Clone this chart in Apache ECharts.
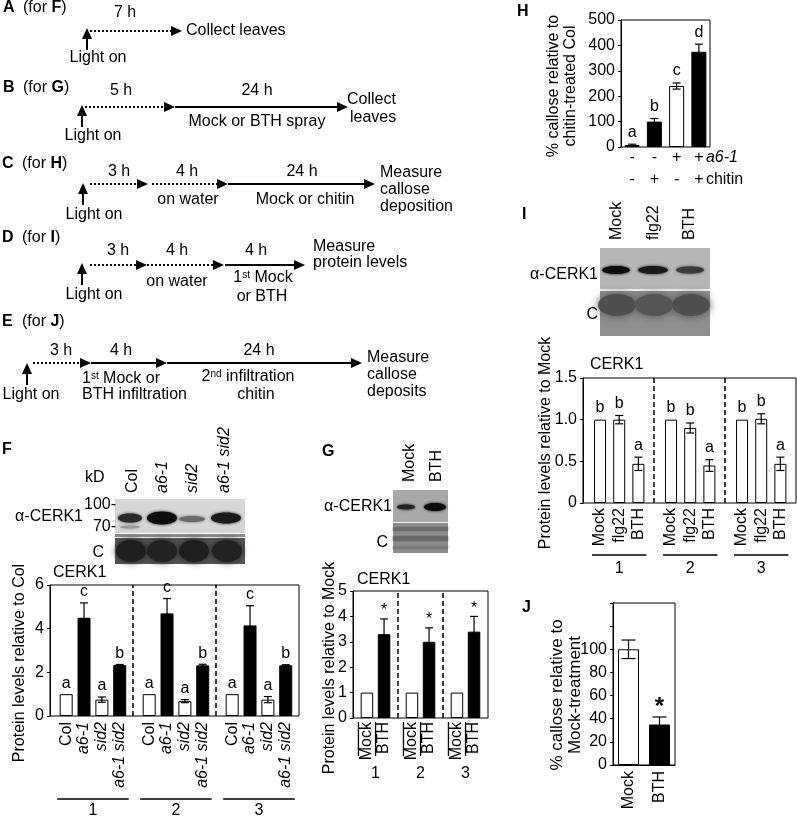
<!DOCTYPE html>
<html><head><meta charset="utf-8">
<script src="https://cdn.jsdelivr.net/npm/echarts@6/dist/echarts.min.js"></script>
<style>html,body{margin:0;padding:0;background:#fff}#c{width:797px;height:818px}</style>
</head><body><div id="c"></div>
<script>
// ---------------- DATA ----------------
// Panel H
const hA61 = ['-', '-', '+', '+'];
const hChitin = ['-', '+', '-', '+'];
const hValues = [8, 100, 240, 375];
const hErrors = [3, 12, 12, 30];
const hLetters = ['a', 'b', 'c', 'd'];
// Panel I
const iTreat = ['Mock', 'flg22', 'BTH'];
const iReps = ['1', '2', '3'];
const iValues = [[1, 1.0, 0.47], [1, 0.9, 0.45], [1, 1.01, 0.47]];
const iErrors = [[0, 0.05, 0.08], [0, 0.06, 0.07], [0, 0.06, 0.08]];
const iLetters = ['b', 'b', 'a'];
// Panel F
const fGeno = ['Col', 'a6-1', 'sid2', 'a6-1 sid2'];
const fReps = ['1', '2', '3'];
const fValues = [[1, 4.5, 0.75, 2.33], [1, 4.7, 0.68, 2.32], [1, 4.15, 0.75, 2.32]];
const fErrors = [[0, 0.68, 0.12, 0.03], [0, 0.68, 0.07, 0.05], [0, 0.9, 0.14, 0.03]];
const fLetters = ['a', 'c', 'a', 'b'];
const fMarkers = ['100-', '70-'];
// Panel G
const gTreat = ['Mock', 'BTH'];
const gReps = ['1', '2', '3'];
const gValues = [[1, 3.3], [1, 3.0], [1, 3.4]];
const gErrors = [[0, 0.6], [0, 0.55], [0, 0.6]];
const gMarks = ['', '*'];
// Panel J
const jTreat = ['Mock', 'BTH'];
const jValues = [100, 35];
const jErrors = [8, 6.5];
const jMarks = ['', '*'];

// ---------------- HELPERS ----------------
const FF = '"Liberation Sans", Arial, Helvetica, sans-serif';
const chart = echarts.init(document.getElementById('c'), null, { renderer: 'canvas' });

function txt(x, y, text, o) {
  o = o || {};
  const st = { text: text, fill: '#000', fontFamily: FF, fontSize: o.size || 16,
    fontWeight: o.bold ? 'bold' : 'normal', fontStyle: o.italic ? 'italic' : 'normal',
    align: o.align || 'left', verticalAlign: o.va || 'middle' };
  if (o.lh) st.lineHeight = o.lh;
  if (o.rich) st.rich = o.rich;
  return { type: 'text', x: x, y: y, rotation: o.rot || 0, silent: true, z: 10, style: st };
}
function ln(x1, y1, x2, y2, w, dash) {
  return { type: 'line', shape: { x1: x1, y1: y1, x2: x2, y2: y2 },
    style: { stroke: '#000', lineWidth: w || 1, lineDash: dash || null }, silent: true };
}
const richB = { b: { fontWeight: 'bold', fontSize: 16, fontFamily: FF } };
const richS = { s: { fontSize: 10, fontFamily: FF, verticalAlign: 'top', padding: [0, 0, 6, 0] } };

const GR = [];
function push() { for (const e of arguments) { if (Array.isArray(e)) GR.push(...e); else GR.push(e); } }
function hArrow(x1, x2, y, dotted) {
  const hl = 11, hw = 5;
  return [ln(x1, y, x2 - hl + 1, y, 2, dotted ? [2, 2] : null),
    { type: 'polygon', shape: { points: [[x2 - hl, y - hw], [x2, y], [x2 - hl, y + hw]] }, style: { fill: '#000' }, silent: true }];
}
function upArrow(x, yTip, yBot) {
  return [ln(x, yTip + 8, x, yBot, 2),
    { type: 'polygon', shape: { points: [[x - 5, yTip + 11], [x, yTip], [x + 5, yTip + 11]] }, style: { fill: '#000' }, silent: true }];
}
const C = { align: 'center' };

// ---------------- SCHEMATICS A-E ----------------
push(txt(3, 8, 'A', { bold: true }), txt(23, 8, '(for {b|F})', { rich: richB }));
push(txt(125, 13, '7 h', C), upArrow(87, 28, 50), hArrow(90, 182, 31, true));
push(txt(186, 31, 'Collect leaves'), txt(98, 58, 'Light on', C));

push(txt(3, 88, 'B', { bold: true }), txt(23, 88, '(for {b|G})', { rich: richB }));
push(upArrow(82, 105, 127), hArrow(85, 175, 107, true), hArrow(175, 348, 107, false));
push(txt(121, 91, '5 h', C), txt(257, 91, '24 h', C), txt(347, 100, 'Collect'), txt(350, 118, 'leaves'));
push(txt(257, 122, 'Mock or BTH spray', C), txt(93, 136, 'Light on', C));

push(txt(2, 164, 'C', { bold: true }), txt(22, 164, '(for {b|H})', { rich: richB }));
push(upArrow(83, 183, 205), hArrow(90, 148, 184, true), hArrow(152, 228, 184, true), hArrow(228, 375, 184, false));
push(txt(119, 172, '3 h', C), txt(187, 172, '4 h', C), txt(302, 172, '24 h', C));
push(txt(188, 200, 'on water', C), txt(305, 200, 'Mock or chitin', C));
push(txt(380, 173, 'Measure'), txt(380, 190, 'callose'), txt(380, 207, 'deposition'), txt(94, 215, 'Light on', C));

push(txt(2, 238, 'D', { bold: true }), txt(22, 238, '(for {b|I})', { rich: richB }));
push(upArrow(82, 263, 285), hArrow(90, 147, 265, true), hArrow(147, 224, 265, true), hArrow(225, 305, 265, false));
push(txt(118, 251, '3 h', C), txt(177, 251, '4 h', C), txt(256, 251, '4 h', C));
push(txt(177, 282, 'on water', C), txt(263, 278, '1{s|st} Mock', { align: 'center', rich: richS }), txt(262, 297, 'or BTH', C));
push(txt(313, 247, 'Measure'), txt(313, 263, 'protein levels'), txt(94, 295, 'Light on', C));

push(txt(2, 322, 'E', { bold: true }), txt(22, 322, '(for {b|J})', { rich: richB }));
push(upArrow(27, 363, 385), hArrow(33, 91, 363, true), hArrow(91, 167, 363, false), hArrow(167, 362, 363, false));
push(txt(61, 351, '3 h', C), txt(121, 351, '4 h', C), txt(259, 351, '24 h', C));
push(txt(82, 379, '1{s|st} Mock or', { rich: richS }), txt(82, 395, 'BTH infiltration'));
push(txt(248, 377, '2{s|nd} infiltration', { align: 'center', rich: richS }), txt(256, 395, 'chitin', C));
push(txt(367, 358, 'Measure'), txt(367, 375, 'callose'), txt(367, 392, 'deposits'), txt(31, 395, 'Light on', C));

// panel letters
push(txt(2, 450, 'F', { bold: true }), txt(322, 452, 'G', { bold: true }), txt(517, 12, 'H', { bold: true }),
  txt(522, 215, 'I', { bold: true }), txt(522, 608, 'J', { bold: true }));

// ---------------- BLOTS ----------------
function rect(x, y, w, h, fill, blur) {
  return { type: 'rect', shape: { x: x, y: y, width: w, height: h }, style: { fill: fill, shadowBlur: blur || 0, shadowColor: fill }, silent: true };
}
function band(cx, cy, rx, ry, fill, blur) {
  return { type: 'ellipse', shape: { cx: cx, cy: cy, rx: rx, ry: ry }, style: { fill: fill, shadowBlur: blur || 3, shadowColor: fill }, silent: true };
}
// F blot
push(rect(115, 499, 130, 34, '#d6d6d6'));
push(band(130, 518, 12, 4.5, '#2a2a2a'), band(162, 518, 15, 6.5, '#0d0d0d'), band(192, 519, 13, 3, '#6a6a6a'), band(226, 518, 15, 5.5, '#1a1a1a'));
push(band(130, 527, 10, 1.5, '#9a9a9a'));
push(rect(115, 534, 130, 30, '#555555'), rect(115, 534, 130, 3, '#8a8a8a'), rect(115, 537, 130, 1, '#eeeeee'));
push(band(131, 551, 15, 11, '#1e1e1e', 6), band(162, 551, 15, 11, '#222', 6), band(194, 551, 15, 11, '#1e1e1e', 6), band(227, 551, 15, 11, '#222', 6));
fGeno.forEach((g, i) => push(txt([133, 163, 193, 225][i], 493, g, { rot: Math.PI / 2, italic: g !== 'Col' })));
push(txt(85, 478, 'kD'), txt(116, 505, fMarkers[0], { align: 'right' }), txt(116, 527, fMarkers[1], { align: 'right' }));
push(txt(83, 517, 'α-CERK1', { align: 'right' }), txt(104, 553, 'C', { align: 'right' }));
// G blot
push(rect(393, 490, 55, 32, '#a9a9a9'));
push(band(406, 507, 9, 2.5, '#222'), band(435, 507, 11, 4, '#0a0a0a'));
push(rect(393, 522, 55, 1, '#f0f0f0'));
push(rect(393, 523, 55, 30, '#8e8e8e'), rect(393, 527, 55, 4, '#6c6c6c', 2), rect(393, 536, 55, 5, '#686868', 2), rect(393, 546, 55, 3, '#7a7a7a', 2));
gTreat.forEach((t, i) => push(txt([410, 437][i], 482, t, { rot: Math.PI / 2 })));
push(txt(392, 507, 'α-CERK1', { align: 'right' }), txt(388, 543, 'C', { align: 'right' }));
// I blot
push(rect(600, 248, 110, 41, '#b6b6b6'));
push(band(616, 270, 14, 4, '#0d0d0d'), band(653, 270, 15, 4, '#1a1a1a'), band(690, 270, 14, 3.5, '#3a3a3a'));
push(rect(600, 289, 110, 2, '#f2f2f2'));
push(rect(600, 291, 110, 45, '#8f8f8f'));
push(band(617, 305, 19, 11, '#4f4f4f', 8), band(654, 305, 19, 11, '#555', 8), band(691, 305, 19, 11, '#4f4f4f', 8));
iTreat.forEach((t, i) => push(txt([617, 654, 690][i], 240, t, { rot: Math.PI / 2 })));
push(txt(598, 275, 'α-CERK1', { align: 'right' }), txt(598, 315, 'C', { align: 'right' }));

// chart titles / axis titles
push(txt(53, 573, 'CERK1'), txt(357, 580, 'CERK1'), txt(590, 365, 'CERK1'));
push(txt(20, 663, 'Protein levels relative to Col', { rot: Math.PI / 2, align: 'center' }));
push(txt(330, 668, 'Protein levels relative to Mock', { rot: Math.PI / 2, align: 'center' }));
push(txt(546, 443, 'Protein levels relative to Mock', { rot: Math.PI / 2, align: 'center' }));
push(txt(562, 86, '% callose relative to\nchitin-treated Col', { rot: Math.PI / 2, align: 'center', lh: 17 }));
push(txt(566, 695, '% callose relative to\nMock-treatment', { rot: Math.PI / 2, align: 'center', lh: 18, size: 17 }));

// ---------------- AXES / GRIDS ----------------
function gridBox(left, top, width, height) {
  return { left: left, top: top, width: width, height: height, show: true, borderColor: '#000', borderWidth: 1,
    backgroundColor: 'transparent', containLabel: false, outerBoundsMode: 'none' };
}
function axisY(k, min, max, interval, fmt) {
  const a = { type: 'value', gridIndex: k, min: min, max: max, interval: interval,
    axisLine: { show: true, lineStyle: { color: '#000', width: 1 } },
    axisTick: { show: true, length: 3, lineStyle: { color: '#000' } },
    axisLabel: { show: true, color: '#000', fontSize: 16, fontFamily: FF, margin: 6 },
    splitLine: { show: false } };
  if (fmt) a.axisLabel.formatter = fmt;
  return a;
}
function axisXv(k) { return { type: 'value', gridIndex: k, min: 0, max: 3, show: false, splitLine: { show: false } }; }

const grids = [gridBox(621, 20, 89, 127), gridBox(583, 378, 213, 125), gridBox(50, 585, 249, 131),
  gridBox(353, 591, 135, 127), gridBox(613, 603, 62, 162)];
const xAxes = [
  { type: 'category', gridIndex: 0, data: hChitin.map((c, i) => String(i)), show: false },
  axisXv(1), axisXv(2), axisXv(3),
  { type: 'category', gridIndex: 4, data: jTreat,
    axisLine: { show: true, lineStyle: { color: '#000' } }, axisTick: { show: false },
    axisLabel: { rotate: 90, color: '#000', fontSize: 16, fontFamily: FF, margin: 6 } }
];
const yAxes = [
  axisY(0, 0, 500, 100), axisY(1, 0, 1.5, 0.5, v => v === 0 ? '0' : v.toFixed(1)),
  axisY(2, 0, 6, 2), axisY(3, 0, 5, 1), axisY(4, 0, 140, 20, v => v <= 100 ? String(v) : '')
];

// ---------------- SERIES ----------------
const series = [];
function errGroup(api, x, v, e, cap) {
  const ch = [];
  if (e > 0) {
    const t = api.coord([x, v + e]), b = api.coord([x, v - e]);
    ch.push(ln(t[0], t[1], b[0], b[1], 1.2), ln(t[0] - cap, t[1], t[0] + cap, t[1], 1.2), ln(b[0] - cap, b[1], b[0] + cap, b[1], 1.2));
  }
  return ch;
}
function ctext(x, y, text, o) { const t = txt(x, y, text, o); t.z2 = 10; return t; }

function groupedPanel(k, cfg) {
  const bars = [], errs = [], labs = [], meta = [];
  cfg.values.forEach((grp, g) => grp.forEach((v, i) => {
    const x = g + cfg.offset + cfg.step * i;
    bars.push({ value: [x, v], itemStyle: { color: cfg.fill(i) } });
    errs.push([x, v, cfg.errors[g][i]]);
    labs.push([x, 0]);
    meta.push(i);
  }));
  const seps = [];
  for (let g = 1; g < cfg.values.length; g++) seps.push([g, cfg.ymax]);
  const groups = cfg.values.map((grp, g) => [g + cfg.offset, g + cfg.offset + cfg.step * (grp.length - 1)]);
  const base = { xAxisIndex: k, yAxisIndex: k, silent: true, animation: false };
  series.push(Object.assign({ type: 'bar', data: bars, barWidth: cfg.barWidth, z: 2,
    itemStyle: { borderColor: '#000', borderWidth: 1 } }, base));
  series.push(Object.assign({ type: 'custom', data: errs, z: 3, renderItem: (p, api) => {
    const x = api.value(0), v = api.value(1), e = api.value(2);
    const ch = errGroup(api, x, v, e, cfg.cap);
    const lab = cfg.letters[meta[p.dataIndex]];
    if (lab) { const t = api.coord([x, v + e]); ch.push(ctext(t[0], t[1] - cfg.letterGap, lab, { align: 'center', va: 'bottom', size: cfg.letterSize || 16 })); }
    return { type: 'group', children: ch };
  } }, base));
  series.push(Object.assign({ type: 'custom', data: labs, z: 3, renderItem: (p, api) => {
    const pt = api.coord([api.value(0), 0]);
    const name = cfg.cats[meta[p.dataIndex]];
    const ch = [ctext(pt[0], pt[1] + cfg.labGap, name, { rot: Math.PI / 2, align: 'right', italic: cfg.italic ? cfg.italic(name) : false })];
    if (cfg.tickBar) ch.push(ln(pt[0] - 8.5, pt[1] + cfg.labGap, pt[0] - 8.5, pt[1] + cfg.labGap + cfg.tickBar, 1.3));
    return { type: 'group', children: ch };
  } }, base));
  series.push(Object.assign({ type: 'custom', data: seps, z: 3, renderItem: (p, api) => {
    const a = api.coord([api.value(0), 0]), b = api.coord([api.value(0), api.value(1)]);
    return ln(a[0], a[1], b[0], b[1], 1.5, [5, 3]);
  } }, base));
  series.push(Object.assign({ type: 'custom', data: groups, z: 3, renderItem: (p, api) => {
    const a = api.coord([api.value(0), 0]), b = api.coord([api.value(1), 0]);
    const ch = [];
    if (cfg.ulGap) ch.push(ln(a[0] - cfg.ulPad, a[1] + cfg.ulGap, b[0] + cfg.ulPad, a[1] + cfg.ulGap, 1.5));
    ch.push(ctext((a[0] + b[0]) / 2, a[1] + cfg.numGap, cfg.reps[p.dataIndex], { align: 'center' }));
    return { type: 'group', children: ch };
  } }, base));
}

// I
groupedPanel(1, { values: iValues, errors: iErrors, cats: iTreat, reps: iReps, letters: iLetters,
  fill: () => '#fff', offset: 0.24, step: 0.27, barWidth: 12, cap: 4, ymax: 1.5, letterGap: 4,
  labGap: 5, ulGap: 52, ulPad: 8, numGap: 66 });
// F
groupedPanel(2, { values: fValues, errors: fErrors, cats: fGeno, reps: fReps, letters: fLetters,
  fill: i => fGeno[i].indexOf('a6-1') >= 0 ? '#000' : '#fff', offset: 0.195, step: 0.215, barWidth: 13,
  cap: 4, ymax: 6, letterGap: 3, labGap: 6, ulGap: 83, ulPad: 9, numGap: 95, italic: n => n !== 'Col' });
// G
groupedPanel(3, { values: gValues, errors: gErrors, cats: gTreat, reps: gReps, letters: gMarks,
  fill: i => gTreat[i] === 'BTH' ? '#000' : '#fff', offset: 0.31, step: 0.38, barWidth: 12.5,
  cap: 4, ymax: 5, letterGap: 0, labGap: 4, ulGap: 0, ulPad: 0, numGap: 56, tickBar: 34 });

// H
series.push({ type: 'bar', xAxisIndex: 0, yAxisIndex: 0, barWidth: 15, z: 2, silent: true,
  data: hValues.map((v, i) => ({ value: v, itemStyle: { color: hChitin[i] === '+' ? '#000' : '#fff' } })),
  itemStyle: { borderColor: '#000', borderWidth: 1 } });
series.push({ type: 'custom', xAxisIndex: 0, yAxisIndex: 0, z: 3, silent: true,
  data: hValues.map((v, i) => [i, v, hErrors[i]]), renderItem: (p, api) => {
    const x = api.value(0), v = api.value(1), e = api.value(2);
    const ch = errGroup(api, x, v, e, 4);
    const t = api.coord([x, v + e]);
    ch.push(ctext(t[0], t[1] - 4, hLetters[p.dataIndex], { align: 'center', va: 'bottom' }));
    return { type: 'group', children: ch };
  } });
series.push({ type: 'custom', xAxisIndex: 0, yAxisIndex: 0, z: 3, silent: true,
  data: hValues.map((v, i) => [i, 0]), renderItem: (p, api) => {
    const i = p.dataIndex, pt = api.coord([i, 0]);
    const ch = [ctext(pt[0], pt[1] + 11, hA61[i], { align: 'center' }), ctext(pt[0], pt[1] + 33, hChitin[i], { align: 'center' })];
    if (i === hValues.length - 1) {
      ch.push(ctext(pt[0] + 7, pt[1] + 11, 'a6-1', { italic: true }));
      ch.push(ctext(pt[0] + 7, pt[1] + 33, 'chitin'));
    }
    return { type: 'group', children: ch };
  } });

// J
series.push({ type: 'bar', xAxisIndex: 4, yAxisIndex: 4, barWidth: 21, z: 2, silent: true,
  data: jValues.map((v, i) => ({ value: v, itemStyle: { color: jTreat[i] === 'BTH' ? '#000' : '#fff' } })),
  itemStyle: { borderColor: '#000', borderWidth: 1 } });
series.push({ type: 'custom', xAxisIndex: 4, yAxisIndex: 4, z: 3, silent: true,
  data: jValues.map((v, i) => [i, v, jErrors[i]]), renderItem: (p, api) => {
    const x = api.value(0), v = api.value(1), e = api.value(2);
    const ch = errGroup(api, x, v, e, 7);
    const m = jMarks[p.dataIndex];
    if (m) { const t = api.coord([x, v + e]); ch.push(ctext(t[0], t[1] + 2, m, { align: 'center', va: 'bottom', size: 24, bold: true })); }
    return { type: 'group', children: ch };
  } });

chart.setOption({
  animation: false,
  backgroundColor: '#fff',
  textStyle: { fontFamily: FF },
  grid: grids, xAxis: xAxes, yAxis: yAxes, series: series,
  graphic: { elements: GR }
});
</script></body></html>
